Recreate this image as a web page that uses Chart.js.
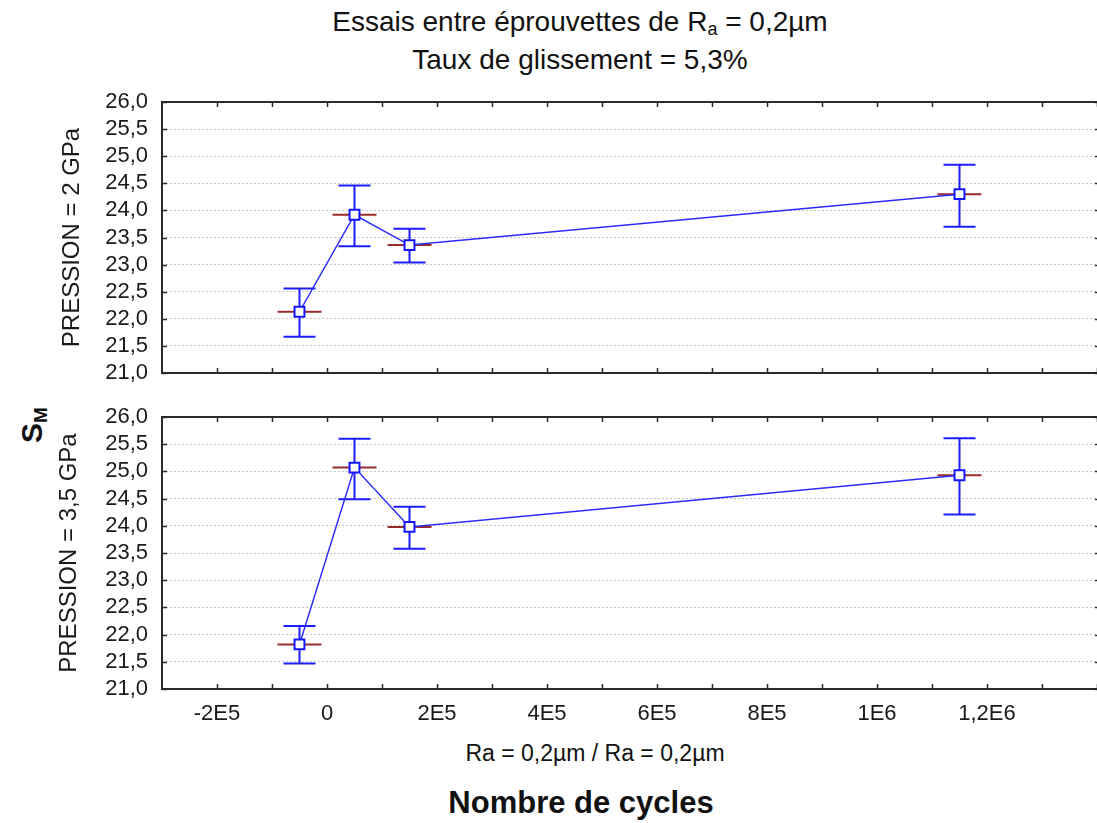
<!DOCTYPE html>
<html>
<head>
<meta charset="utf-8">
<script src="https://cdn.jsdelivr.net/npm/chart.js@4.4.1/dist/chart.umd.min.js"></script>
<style>
    body { margin: 0; background: #fff; width: 1097px; height: 823px; overflow: hidden; position: relative;
           font-family: "Liberation Sans", Arial, sans-serif; color: #111; }
    canvas { position: absolute; left: 0; }
    .txt { position: absolute; white-space: nowrap; }
    #title1, #title2 { left: 0; width: 1160px; text-align: center; font-size: 28px; }
    #title1 { top: 6px; }
    #title2 { top: 44px; }
    #title1 sub { font-size: 18px; vertical-align: -4px; line-height: 0; }
    #subLabel { left: 0; width: 1190px; text-align: center; top: 740px; font-size: 23px; }
    #xTitle { left: 0; width: 1162px; text-align: center; top: 785px; font-size: 31px; font-weight: bold; }
    #yTitle { left: 32px; top: 425px; font-size: 30px; font-weight: bold;
              transform: translate(-50%, -50%) rotate(-90deg); }
    #yTitle sub { font-size: 19px; vertical-align: -5px; line-height: 0; }
</style>
</head>
<body>
<div class="txt" id="title1">Essais entre éprouvettes de R<sub>a</sub> = 0,2µm</div>
<div class="txt" id="title2">Taux de glissement = 5,3%</div>
<div class="txt" id="yTitle">S<sub>M</sub></div>
<canvas id="topChart" width="1097" height="307" style="top:80px"></canvas>
<canvas id="bottomChart" width="1097" height="340" style="top:395px"></canvas>
<div class="txt" id="subLabel">Ra = 0,2µm / Ra = 0,2µm</div>
<div class="txt" id="xTitle">Nombre de cycles</div>

<script>
// Nombre de cycles
const cycles = [-50000, 50000, 150000, 1150000];

// PRESSION = 2 GPa
const meanTop = [22.13, 23.92, 23.36, 24.30];
const lowTop = [21.67, 23.34, 23.04, 23.70];
const highTop = [22.56, 24.46, 23.66, 24.84];

// PRESSION = 3,5 GPa
const meanBottom = [21.82, 25.07, 23.98, 24.93];
const lowBottom = [21.47, 24.49, 23.58, 24.21];
const highBottom = [22.16, 25.60, 24.35, 25.61];

const xTickValues = [-200000, 0, 200000, 400000, 600000, 800000, 1000000, 1200000];
const xTickLabels = ['-2E5', '0', '2E5', '4E5', '6E5', '8E5', '1E6', '1,2E6'];

const FONT = '"Liberation Sans", Arial, sans-serif';

// frame, inward ticks, mean marks and error bars (drawn under the line)
const errorBarPlugin = {
    id: 'errorBars',
    beforeDatasetsDraw(chart, args, opts) {
        const ctx = chart.ctx;
        const a = chart.chartArea;
        const xs = chart.scales.x;
        const ys = chart.scales.y;
        ctx.save();

        // frame
        ctx.strokeStyle = '#2b2b2b';
        ctx.lineWidth = 2;
        ctx.beginPath();
        ctx.moveTo(a.right + 2, a.top);
        ctx.lineTo(a.left, a.top);
        ctx.lineTo(a.left, a.bottom);
        ctx.lineTo(a.right + 2, a.bottom);
        ctx.stroke();

        // inward ticks
        ctx.lineWidth = 1.5;
        ctx.beginPath();
        xs.ticks.forEach(t => {
            const px = Math.round(xs.getPixelForValue(t.value)) + 0.5;
            if (px <= a.left + 2) return;
            ctx.moveTo(px, a.top);
            ctx.lineTo(px, a.top + 5);
            ctx.moveTo(px, a.bottom);
            ctx.lineTo(px, a.bottom - 5);
        });
        ys.ticks.forEach(t => {
            const py = Math.round(ys.getPixelForValue(t.value)) + 0.5;
            ctx.moveTo(a.left, py);
            ctx.lineTo(a.left + 5, py);
            ctx.moveTo(a.right, py);
            ctx.lineTo(a.right - 2, py);
        });
        ctx.stroke();

        const means = opts.means, lows = opts.lows, highs = opts.highs;
        for (let i = 0; i < cycles.length; i++) {
            const x = xs.getPixelForValue(cycles[i]);
            const yM = ys.getPixelForValue(means[i]);
            const yL = ys.getPixelForValue(lows[i]);
            const yH = ys.getPixelForValue(highs[i]);

            ctx.strokeStyle = '#9a2b2b';
            ctx.lineWidth = 2;
            ctx.beginPath();
            ctx.moveTo(x - 22, yM);
            ctx.lineTo(x + 22, yM);
            ctx.stroke();

            ctx.strokeStyle = '#1c1cff';
            ctx.lineWidth = 2;
            ctx.beginPath();
            ctx.moveTo(x, yH);
            ctx.lineTo(x, yL);
            ctx.moveTo(x - 16, yH);
            ctx.lineTo(x + 16, yH);
            ctx.moveTo(x - 16, yL);
            ctx.lineTo(x + 16, yL);
            ctx.stroke();
        }
        ctx.restore();
    }
};

function makeChart(id, means, lows, highs, yTitle, titlePad, showX) {
    return new Chart(document.getElementById(id), {
        type: 'line',
        data: {
            datasets: [{
                data: cycles.map((c, i) => ({ x: c, y: means[i] })),
                borderColor: '#2a2aff',
                borderWidth: 1.5,
                tension: 0,
                pointStyle: 'rect',
                pointRadius: 7,
                pointBorderWidth: 2,
                pointBorderColor: '#1414ff',
                pointBackgroundColor: '#ffffff'
            }]
        },
        options: {
            responsive: false,
            animation: false,
            layout: { autoPadding: false, padding: { top: 22, left: 0, right: 0, bottom: 0 } },
            plugins: {
                legend: { display: false },
                tooltip: { enabled: false },
                errorBars: { means: means, lows: lows, highs: highs }
            },
            scales: {
                x: {
                    type: 'linear',
                    min: -300000,
                    max: 1400000,
                    afterFit: s => {
                        s.height = showX ? 46 : 14;
                        s.paddingLeft = 0;
                        s.paddingRight = 0;
                    },
                    grid: { display: false, drawTicks: false },
                    border: { display: false },
                    ticks: {
                        display: showX,
                        stepSize: 100000,
                        autoSkip: false,
                        maxRotation: 0,
                        padding: 12,
                        color: '#1a1a1a',
                        font: { family: FONT, size: 22 },
                        callback: v => {
                            const k = xTickValues.indexOf(Math.round(v));
                            return k >= 0 ? xTickLabels[k] : '';
                        }
                    }
                },
                y: {
                    min: 21,
                    max: 26,
                    afterFit: s => {
                        s.width = 162;
                        s.paddingTop = 0;
                        s.paddingBottom = 0;
                    },
                    grid: { color: '#c4c4c4', lineWidth: 1, drawTicks: false },
                    border: { display: false, dash: [2, 2] },
                    ticks: {
                        stepSize: 0.5,
                        autoSkip: false,
                        padding: 14,
                        color: '#1a1a1a',
                        font: { family: FONT, size: 22 },
                        callback: v => v.toFixed(1).replace('.', ',')
                    },
                    title: {
                        display: true,
                        text: yTitle,
                        color: '#1a1a1a',
                        padding: { top: titlePad, bottom: 0 },
                        font: { family: FONT, size: 24 }
                    }
                }
            }
        },
        plugins: [errorBarPlugin]
    });
}

makeChart('topChart', meanTop, lowTop, highTop, 'PRESSION = 2 GPa', 58, false);
makeChart('bottomChart', meanBottom, lowBottom, highBottom, 'PRESSION = 3,5 GPa', 55, true);
</script>
</body>
</html>
